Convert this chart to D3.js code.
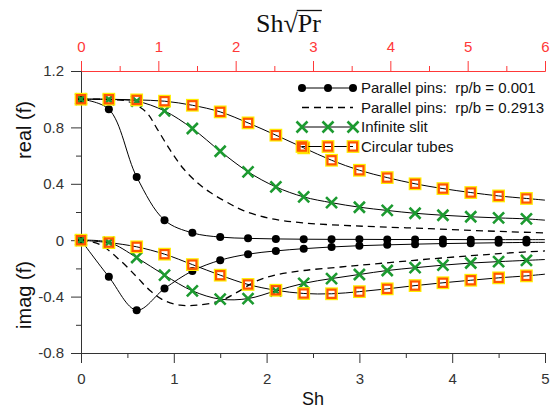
<!DOCTYPE html>
<html>
<head>
<meta charset="utf-8">
<script src="https://cdn.jsdelivr.net/npm/d3@7"></script>
<style>
  body { margin: 0; background: #fff; }
  svg { display: block; font-family: "Liberation Sans", Arial, sans-serif; }
</style>
</head>
<body>
<svg id="chart"></svg>
<script>
// Sh grid; the last value (5.0) is only where the curves end, no marker there
const sh = [0, 0.3, 0.6, 0.9, 1.2, 1.5, 1.8, 2.1, 2.4, 2.7, 3.0, 3.3, 3.6, 3.9, 4.2, 4.5, 4.8, 5.0];

const pinsReal = [1.0, 0.929, 0.449, 0.142, 0.052, 0.022, 0.013, 0.009, 0.007, 0.006, 0.006, 0.005, 0.005, 0.005, 0.004, 0.004, 0.004, 0.004];
const pinsImag = [0, -0.26, -0.496, -0.343, -0.218, -0.142, -0.099, -0.076, -0.06, -0.048, -0.039, -0.033, -0.028, -0.024, -0.021, -0.018, -0.016, -0.015];

const slitReal = [1.0, 0.998, 0.986, 0.917, 0.792, 0.631, 0.485, 0.378, 0.307, 0.266, 0.234, 0.211, 0.191, 0.177, 0.166, 0.158, 0.151, 0.142];
const slitImag = [0, -0.015, -0.123, -0.248, -0.359, -0.418, -0.414, -0.359, -0.306, -0.272, -0.243, -0.215, -0.195, -0.177, -0.162, -0.152, -0.143, -0.137];

const tubeReal = [1.0, 1.0, 0.995, 0.986, 0.957, 0.91, 0.832, 0.745, 0.655, 0.567, 0.496, 0.444, 0.4, 0.366, 0.338, 0.314, 0.296, 0.284];
const tubeImag = [0, -0.017, -0.047, -0.099, -0.173, -0.248, -0.314, -0.355, -0.378, -0.38, -0.365, -0.345, -0.322, -0.302, -0.284, -0.267, -0.253, -0.241];

// dashed curve (rp/b = 0.2913) has no markers, read at its own points
const dashRealSh = [0, 0.3, 0.5, 0.7, 0.82, 0.96, 1.1, 1.25, 1.39, 1.57, 1.75, 2.04, 2.39, 2.8, 3.2, 3.72, 4.2, 4.6, 5.0];
const dashReal = [1.0, 0.998, 0.985, 0.91, 0.79, 0.64, 0.51, 0.41, 0.34, 0.27, 0.21, 0.154, 0.123, 0.106, 0.095, 0.083, 0.07, 0.06, 0.052];
const dashImagSh = [0, 0.2, 0.42, 0.6, 0.74, 0.89, 1.07, 1.25, 1.5, 1.68, 1.89, 2.11, 2.4, 2.8, 3.2, 3.69, 4.2, 4.6, 5.0];
const dashImag = [0, -0.03, -0.142, -0.26, -0.355, -0.426, -0.461, -0.461, -0.43, -0.37, -0.29, -0.245, -0.215, -0.19, -0.166, -0.137, -0.11, -0.091, -0.076];

const xTicks = [0, 1, 2, 3, 4, 5];
const xMinor = [0.5, 1.5, 2.5, 3.5, 4.5];
const topTicks = [0, 1, 2, 3, 4, 5, 6];
const topMinor = [0.5, 1.5, 2.5, 3.5, 4.5, 5.5];
const yTicks = [-0.8, -0.4, 0, 0.4, 0.8, 1.2];
const yTickLabels = ["-0.8", "-0.4", "0", "0.4", "0.8", "1.2"];
const yMinor = [-0.6, -0.2, 0.2, 0.6, 1.0];

const legendLabels = [
  "Parallel pins:  rp/b = 0.001",
  "Parallel pins:  rp/b = 0.2913",
  "Infinite slit",
  "Circular tubes"
];

const w = 554;
const h = 410;
const green = "#1c9a30";
const red = "#ff3838";
const axisColor = "#333";

const svg = d3.select("#chart").attr("width", w).attr("height", h);

const x = d3.scaleLinear().domain([0, 5]).range([81, 545]);
const xTop = d3.scaleLinear().domain([0, 6]).range([81, 545]);
const y = d3.scaleLinear().domain([-0.8, 1.2]).range([353, 71]);

function styleAxis(g, color) {
  g.attr("font-family", null).attr("font-size", null);
  g.select(".domain").attr("stroke", color);
  g.selectAll(".tick line").attr("stroke", color);
  g.selectAll(".tick text").attr("fill", color).style("font-size", "15px");
}

// top axis (Sh*sqrt(Pr)), red
svg.append("g")
  .attr("transform", "translate(0,71)")
  .call(d3.axisTop(xTop).tickValues(topMinor).tickSize(5).tickFormat("").tickSizeOuter(0))
  .call((g) => styleAxis(g, red));
svg.append("g")
  .attr("transform", "translate(0,71)")
  .call(d3.axisTop(xTop).tickValues(topTicks).tickSize(10).tickPadding(9).tickSizeOuter(0)
    .tickFormat(d3.format("d")))
  .call((g) => styleAxis(g, red));

// bottom axis
svg.append("g")
  .attr("transform", "translate(0,353)")
  .call(d3.axisBottom(x).tickValues(xMinor).tickSize(5).tickFormat("").tickSizeOuter(0))
  .call((g) => styleAxis(g, axisColor));
svg.append("g")
  .attr("transform", "translate(0,353)")
  .call(d3.axisBottom(x).tickValues(xTicks).tickSize(10).tickPadding(10).tickSizeOuter(0)
    .tickFormat(d3.format("d")))
  .call((g) => styleAxis(g, axisColor));

// left axis
svg.append("g")
  .attr("transform", "translate(81,0)")
  .call(d3.axisLeft(y).tickValues(yMinor).tickSize(5).tickFormat("").tickSizeOuter(0))
  .call((g) => styleAxis(g, axisColor));
svg.append("g")
  .attr("transform", "translate(81,0)")
  .call(d3.axisLeft(y).tickValues(yTicks).tickSize(10).tickPadding(7).tickSizeOuter(0)
    .tickFormat((d, i) => yTickLabels[i]))
  .call((g) => styleAxis(g, axisColor));

// axis titles
svg.append("text")
  .attr("x", 313).attr("y", 405)
  .attr("text-anchor", "middle")
  .style("font-size", "18px")
  .attr("fill", "#111")
  .text("Sh");

svg.append("text")
  .attr("transform", "translate(31,130) rotate(-90)")
  .attr("text-anchor", "middle")
  .style("font-size", "20px")
  .attr("fill", "#111")
  .text("real (f)");

svg.append("text")
  .attr("transform", "translate(31,295) rotate(-90)")
  .attr("text-anchor", "middle")
  .style("font-size", "20px")
  .attr("fill", "#111")
  .text("imag (f)");

const title = svg.append("text")
  .attr("x", 256).attr("y", 32)
  .style("font-family", "'Liberation Serif', 'Times New Roman', serif")
  .style("font-size", "26px")
  .attr("fill", "#111")
  .text("Sh\u221APr");
// bar over Pr
const tn = title.node();
svg.append("line")
  .attr("x1", tn.getEndPositionOfChar(2).x - 1)
  .attr("x2", tn.getEndPositionOfChar(4).x + 1)
  .attr("y1", 10.5).attr("y2", 10.5)
  .attr("stroke", "#111").attr("stroke-width", 1.3);

// curves
const line = d3.line()
  .x((d) => x(d[0]))
  .y((d) => y(d[1]))
  .curve(d3.curveCatmullRom.alpha(0.5));

const zipSh = (vals) => vals.map((v, i) => [sh[i], v]);
const solidSeries = [pinsReal, pinsImag, slitReal, slitImag, tubeReal, tubeImag];

svg.append("g")
  .selectAll("path")
  .data(solidSeries)
  .join("path")
  .attr("d", (d) => line(zipSh(d)))
  .attr("fill", "none")
  .attr("stroke", "#000")
  .attr("stroke-width", 1);

svg.append("g")
  .selectAll("path")
  .data([dashRealSh.map((s, i) => [s, dashReal[i]]), dashImagSh.map((s, i) => [s, dashImag[i]])])
  .join("path")
  .attr("d", line)
  .attr("fill", "none")
  .attr("stroke", "#000")
  .attr("stroke-width", 1.3)
  .attr("stroke-dasharray", "7,5");

// markers (no marker at the line end, sh = 5)
const markerPts = (vals) => zipSh(vals).slice(0, 17);

function drawDot(sel) {
  sel.append("circle").attr("r", 4).attr("fill", "#000");
}
function drawCross(sel) {
  sel.append("path")
    .attr("d", "M-5.5,-5.5L5.5,5.5M-5.5,5.5L5.5,-5.5")
    .attr("stroke", green)
    .attr("stroke-width", 2.6)
    .attr("fill", "none");
}
function drawSquare(sel) {
  sel.append("rect")
    .attr("x", -5.6).attr("y", -5.6).attr("width", 11.2).attr("height", 11.2)
    .attr("fill", "none").attr("stroke", "#ffee00").attr("stroke-width", 1.6);
  sel.append("rect")
    .attr("x", -4.1).attr("y", -4.1).attr("width", 8.2).attr("height", 8.2)
    .attr("fill", "none").attr("stroke", "#ff5500").attr("stroke-width", 2.2);
}

const markerSets = [
  { vals: [pinsReal, pinsImag], draw: drawDot },
  { vals: [slitReal, slitImag], draw: drawCross },
  { vals: [tubeReal, tubeImag], draw: drawSquare }
];

markerSets.forEach((m) => {
  const pts = m.vals.flatMap(markerPts);
  svg.append("g")
    .selectAll("g")
    .data(pts)
    .join("g")
    .attr("transform", (d) => `translate(${x(d[0])},${y(d[1])})`)
    .call(m.draw);
});

// legend
const legendY = [88, 107.5, 127, 146.5];
const legendSym = [302, 328, 353];
const legendDraw = [drawDot, null, drawCross, drawSquare];

legendLabels.forEach((label, i) => {
  const g = svg.append("g").attr("transform", `translate(0,${legendY[i]})`);
  g.append("line")
    .attr("x1", legendSym[0]).attr("x2", legendSym[2])
    .attr("stroke", "#000")
    .attr("stroke-width", i === 1 ? 1.3 : 1)
    .attr("stroke-dasharray", i === 1 ? "7,5" : null);
  if (legendDraw[i]) {
    g.selectAll("g")
      .data(legendSym)
      .join("g")
      .attr("transform", (d) => `translate(${d},0)`)
      .call(legendDraw[i]);
  }
  g.append("text")
    .attr("x", 361)
    .attr("dy", "0.35em")
    .style("font-size", "15px")
    .style("white-space", "pre")
    .attr("fill", "#111")
    .text(label);
});
</script>
</body>
</html>
